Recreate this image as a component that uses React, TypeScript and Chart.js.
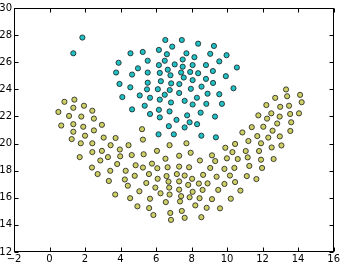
import React, { useEffect, useRef } from "react";
import { Chart, registerables } from "chart.js";

Chart.register(...registerables);

// Cluster A (cyan) — x values and y values
const cyanX = [1.85, 1.34, 4.56, 5.25, 3.89, 5.53, 4.98, 3.75, 4.65, 5.53, 3.94, 4.55, 5.53, 5.49, 4.10, 5.08, 5.66,
  6.52, 7.45, 6.16, 6.91, 8.37, 9.26, 6.61, 7.71, 9.05, 9.97, 6.49, 7.50, 8.16, 6.16, 7.05, 7.50, 8.06, 8.81, 9.56,
  10.55, 6.21, 6.66, 6.81, 7.41, 7.56, 7.92, 8.37, 9.20, 9.93, 6.27, 6.85, 7.31, 8.06, 8.81, 9.21, 8.56, 10.36, 6.10,
  6.77, 7.30, 7.96, 8.90, 9.56, 6.49, 6.21, 6.84, 7.61, 8.30, 4.65, 5.36, 6.16, 8.06, 8.83, 9.71, 5.66, 6.21, 6.76,
  7.15, 7.75, 8.51, 9.32, 6.72, 7.61, 7.89, 8.31, 6.14, 7.00, 8.55, 9.37];
const cyanY = [27.82, 26.66, 26.66, 26.76, 25.96, 26.11, 25.55, 25.24, 25.09, 25.24, 24.40, 24.15, 24.49, 24.00, 23.43,
  23.55, 23.38, 27.64, 27.64, 26.91, 27.15, 27.37, 27.20, 26.59, 26.66, 26.62, 26.52, 26.11, 26.20, 26.37, 25.79, 25.84,
  25.67, 25.79, 25.79, 26.06, 25.61, 25.21, 25.45, 25.04, 25.24, 24.87, 25.28, 25.19, 25.35, 24.97, 24.60, 24.44, 24.39,
  24.68, 24.77, 24.47, 24.20, 24.08, 24.01, 23.95, 23.73, 24.04, 23.68, 23.64, 23.60, 23.24, 23.03, 23.15, 23.38, 22.52,
  22.79, 22.49, 22.88, 22.93, 22.93, 22.18, 21.93, 22.37, 21.75, 22.08, 22.28, 21.99, 21.28, 21.19, 21.57, 21.43, 20.68,
  20.68, 20.58, 20.46];

// Cluster B (yellow) — x values and y values
const yellowX = [0.84, 1.40, 1.34, 1.94, 0.50, 1.10, 1.79, 2.41, 2.50, 0.66, 1.34, 1.90, 2.95, 1.34, 2.50, 2.00, 1.25,
  3.05, 3.72, 1.76, 2.41, 3.44, 4.45, 3.96, 2.95, 2.41, 4.63, 3.98, 3.29, 1.70, 2.86, 5.21, 5.26, 6.76, 7.71, 10.45,
  6.05, 7.95, 9.90, 10.30, 5.30, 6.53, 9.15, 9.99, 8.47, 9.33, 13.32, 12.71, 13.38, 14.11, 14.20, 12.21, 12.99, 13.49,
  11.76, 12.49, 12.25, 12.96, 13.55, 14.05, 11.39, 12.04, 12.82, 13.61, 10.86, 11.70, 12.56, 13.56, 11.20, 11.91, 12.32,
  12.97, 12.51, 13.06, 11.05, 11.80, 10.60, 11.16, 11.91, 12.62, 9.05, 9.85, 10.41, 11.25, 11.97, 8.65, 9.41, 10.16,
  11.11, 11.65, 8.41, 8.90, 9.85, 10.45, 8.62, 9.50, 10.75, 8.45, 9.15, 10.21, 8.85, 9.60, 8.55, 7.30, 3.81, 4.85, 5.26,
  5.77, 6.07, 6.65, 7.30, 7.86, 3.42, 4.29, 5.60, 6.09, 6.59, 7.17, 7.61, 8.03, 3.34, 4.24, 4.80, 5.45, 6.70, 7.30, 7.81,
  4.41, 5.96, 6.74, 7.30, 8.06, 3.70, 5.06, 6.25, 6.76, 7.41, 7.89, 4.54, 5.66, 6.55, 7.35, 8.21, 4.95, 5.61, 6.80, 7.45,
  5.85, 6.84, 7.61, 2.39, 2.71];
const yellowY = [23.08, 23.24, 22.64, 22.79, 22.33, 22.04, 21.99, 22.42, 21.84, 21.33, 21.43, 21.24, 21.38, 20.87, 20.97,
  20.58, 20.33, 20.44, 20.41, 20.02, 20.02, 19.88, 19.88, 19.56, 19.46, 19.37, 19.15, 19.06, 19.00, 19.00, 18.75, 21.06,
  20.29, 19.88, 20.02, 19.97, 19.46, 19.32, 19.69, 19.37, 19.21, 18.88, 19.13, 18.91, 18.75, 18.71, 23.99, 23.37, 23.49,
  23.59, 23.05, 22.84, 22.71, 22.79, 22.08, 22.23, 21.84, 21.99, 22.18, 22.23, 21.21, 21.24, 21.48, 21.57, 20.82, 20.55,
  20.95, 20.93, 20.19, 20.02, 20.44, 20.53, 19.71, 19.86, 19.45, 19.45, 18.86, 18.98, 18.81, 18.86, 18.20, 18.13, 18.20,
  18.35, 18.20, 17.69, 17.55, 17.64, 17.60, 17.38, 17.05, 17.06, 17.02, 17.16, 16.58, 16.58, 16.53, 15.97, 15.90, 15.93,
  15.26, 15.22, 14.57, 19.10, 18.49, 18.40, 18.23, 18.52, 18.18, 18.25, 18.30, 18.25, 17.99, 17.99, 17.75, 17.40, 17.60,
  17.75, 17.64, 17.40, 17.24, 17.35, 17.62, 17.09, 17.19, 17.21, 16.95, 16.89, 16.75, 16.75, 16.60, 16.44, 16.24, 16.48,
  16.33, 16.24, 16.12, 16.04, 15.97, 15.93, 15.68, 15.73, 15.44, 15.37, 15.24, 14.88, 15.03, 14.73, 14.37, 14.52, 18.23,
  17.75];

// Axis tick settings
const xRange = [-2, 16];
const yRange = [12, 30];
const tickStep = 2;

const toPoints = (xs: number[], ys: number[]) => xs.map((x, i) => ({ x, y: ys[i] }));

const fmt = (v: number | string) => {
  const n = Number(v);
  return n < 0 ? "\u2212" + Math.abs(n) : String(n);
};

const framePlugin = {
  id: "mplFrame",
  afterDraw(chart: any) {
    const { ctx, chartArea } = chart;
    const { left, right, top, bottom } = chartArea;
    const xs = chart.scales.x;
    const ys = chart.scales.y;
    const L = Math.round(left) + 0.5;
    const R = Math.round(right) - 0.5;
    const T = Math.round(top) + 0.5;
    const B = Math.round(bottom) - 0.5;
    ctx.save();
    ctx.strokeStyle = "#000";
    ctx.lineWidth = 1;
    ctx.beginPath();
    const tl = 4;
    xs.ticks.forEach((t: any) => {
      const p = Math.round(xs.getPixelForValue(t.value)) + 0.5;
      ctx.moveTo(p, B);
      ctx.lineTo(p, B - tl);
      ctx.moveTo(p, T);
      ctx.lineTo(p, T + tl);
    });
    ys.ticks.forEach((t: any) => {
      const p = Math.round(ys.getPixelForValue(t.value)) + 0.5;
      ctx.moveTo(L, p);
      ctx.lineTo(L + tl, p);
      ctx.moveTo(R, p);
      ctx.lineTo(R - tl, p);
    });
    ctx.stroke();
    ctx.strokeRect(L, T, R - L, B - T);
    ctx.restore();
  },
};

export default function App() {
  const ref = useRef<HTMLCanvasElement | null>(null);

  useEffect(() => {
    document.body.style.margin = "0";
    if (!ref.current) return;
    const tickFont = { family: "DejaVu Sans", size: 10 };
    const chart = new Chart(ref.current, {
      type: "scatter",
      data: {
        datasets: [
          {
            data: toPoints(cyanX, cyanY),
            backgroundColor: "rgb(32, 192, 196)",
            borderColor: "#1a1a1a",
            borderWidth: 0.8,
            pointRadius: 2.6,
          },
          {
            data: toPoints(yellowX, yellowY),
            backgroundColor: "rgb(206, 208, 102)",
            borderColor: "#1a1a1a",
            borderWidth: 0.8,
            pointRadius: 2.6,
          },
        ],
      },
      options: {
        animation: false,
        responsive: false,
        events: [],
        layout: { padding: { top: 5, right: 6, left: 0, bottom: 0 } },
        plugins: { legend: { display: false }, tooltip: { enabled: false } },
        scales: {
          x: {
            type: "linear",
            min: xRange[0],
            max: xRange[1],
            afterFit: (s: any) => {
              s.height = 12;
            },
            grid: { display: false, drawTicks: false },
            border: { display: false },
            ticks: {
              stepSize: tickStep,
              padding: 1,
              color: "#000",
              font: tickFont,
              maxRotation: 0,
              autoSkip: false,
              callback: fmt,
            },
          },
          y: {
            type: "linear",
            min: yRange[0],
            max: yRange[1],
            afterFit: (s: any) => {
              s.width = 14;
            },
            grid: { display: false, drawTicks: false },
            border: { display: false },
            ticks: {
              stepSize: tickStep,
              padding: 2,
              color: "#000",
              font: tickFont,
              autoSkip: false,
              callback: fmt,
            },
          },
        },
      },
      plugins: [framePlugin],
    });
    return () => chart.destroy();
  }, []);

  return (
    <div style={{ width: 341, height: 264 }}>
      <canvas ref={ref} width={341} height={264} style={{ display: "block" }} />
    </div>
  );
}
